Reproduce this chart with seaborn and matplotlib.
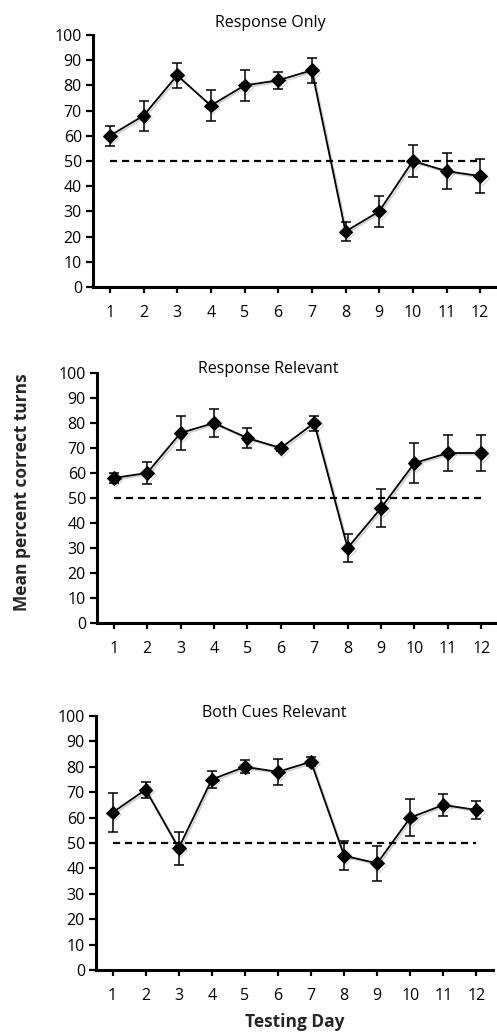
import numpy as np
import pandas as pd
import matplotlib
matplotlib.use("Agg")
import matplotlib.pyplot as plt
import matplotlib.patheffects as pe
import seaborn as sns

days = list(range(1, 13))
titles = ["Response Only", "Response Relevant", "Both Cues Relevant"]

resp_only_mean = [60, 68, 84, 72, 80, 82, 86, 22, 30, 50, 46, 44]
resp_only_err = [4, 6, 5, 6, 6, 3.5, 5, 3.7, 6.2, 6.2, 7.3, 6.7]

resp_rel_mean = [58, 60, 76, 80, 74, 70, 80, 30, 46, 64, 68, 68]
resp_rel_err = [2, 4.5, 6.7, 5.5, 4, 1, 3, 5.5, 7.5, 8, 7.3, 7.3]

both_mean = [62, 71, 48, 75, 80, 78, 82, 45, 42, 60, 65, 63]
both_err = [7.5, 3.2, 6.5, 3.5, 2.6, 5, 1.7, 5.6, 7, 7.3, 4.3, 3.4]

CHANCE = 50
y_ticks = list(range(0, 101, 10))

sns.set_theme(style="white")
plt.rcParams['font.family'] = ['Open Sans', 'DejaVu Sans']

W, H = 497, 1032
fig = plt.figure(figsize=(W / 100, H / 100), dpi=100)

# axes boxes in pixels: left, top, right, bottom
boxes = [
    (93, 35, 497, 287),
    (97, 373, 498, 623),
    (96, 716, 493, 970),
]
title_pos = [(0.438, 1.048), (0.426, 1.016), (0.448, 1.012)]
series = [(resp_only_mean, resp_only_err),
          (resp_rel_mean, resp_rel_err),
          (both_mean, both_err)]

for (l, t, r, b), title, (tx, ty), (m, e) in zip(boxes, titles, title_pos, series):
    ax = fig.add_axes([l / W, 1 - b / H, (r - l) / W, (b - t) / H])
    df = pd.DataFrame({"day": days, "mean": m, "err": e})
    ax.plot([days[0], days[-1]], [CHANCE, CHANCE], ls=(0, (3.2, 2.2)),
            color="black", lw=1.6, zorder=1)
    ax.errorbar(df["day"], df["mean"], yerr=df["err"], fmt="none",
                ecolor="black", elinewidth=1.1, capsize=3.5, capthick=1.1,
                zorder=2)
    sns.lineplot(data=df, x="day", y="mean", ax=ax, color="black",
                 marker="D", markersize=7, markeredgecolor="black",
                 linewidth=1.3, zorder=3,
                 path_effects=[pe.SimpleLineShadow(offset=(1.2, -1.2),
                                                   alpha=0.18, shadow_color="black"),
                               pe.Normal()])
    ax.set_xlim(0.5, 12.5)
    ax.set_ylim(0, 100)
    ax.set_xticks(days)
    ax.set_xticklabels([str(d) for d in days])
    ax.set_yticks(y_ticks)
    ax.set_yticklabels([str(v) for v in y_ticks])
    ax.set_xlabel("")
    ax.set_ylabel("")
    for s in ["top", "right"]:
        ax.spines[s].set_visible(False)
    for s in ["left", "bottom"]:
        ax.spines[s].set_linewidth(2.2)
        ax.spines[s].set_color("black")
    ax.tick_params(axis="y", which="both", left=True, length=5, width=1.6,
                   labelsize=11.5, colors="black", pad=3, direction="out")
    ax.tick_params(axis="x", which="both", bottom=True, length=4, width=1.6,
                   labelsize=11.5, colors="black", pad=9, direction="out")
    ax.text(tx, ty, title, transform=ax.transAxes, ha="center", va="center",
            fontsize=11.5, color="black")

fig.text(22 / W, 1 - 492 / H, "Mean percent correct turns", rotation=90,
         ha="center", va="center", fontsize=12.5, fontweight="bold")
fig.text(295 / W, 1 - 1022 / H, "Testing Day", ha="center", va="center",
         fontsize=12.5, fontweight="bold")

fig.savefig("out.png", dpi=100)
